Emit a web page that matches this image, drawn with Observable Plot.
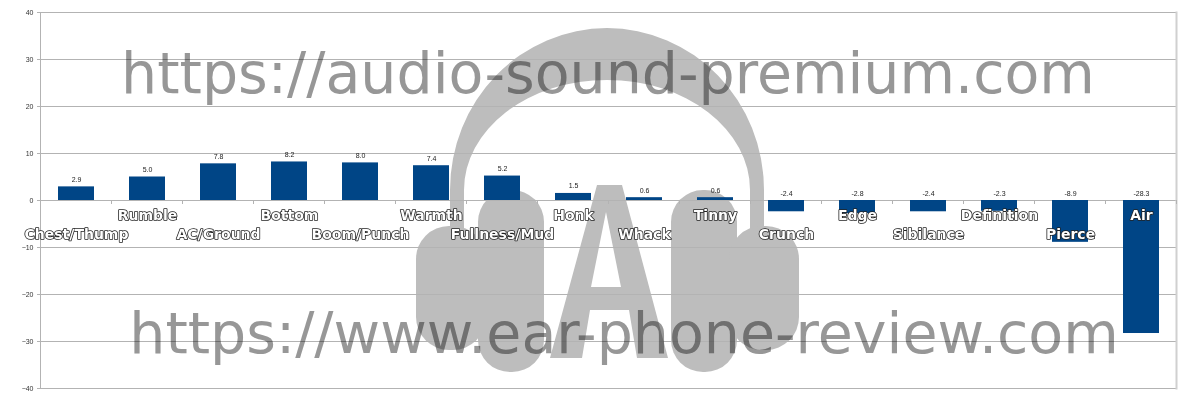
<!DOCTYPE html>
<html><head><meta charset="utf-8">
<script src="https://cdn.jsdelivr.net/npm/d3@7"></script>
<script src="https://cdn.jsdelivr.net/npm/@observablehq/plot@0.6"></script>
<style>html,body{margin:0;padding:0;background:#fff} #chart svg{display:block}</style>
</head><body><div id="chart"></div>
<script>
const categories = ["Chest/Thump","Rumble","AC/Ground","Bottom","Boom/Punch","Warmth","Fullness/Mud","Honk","Whack","Tinny","Crunch","Edge","Sibilance","Definition","Pierce","Air"];
const values = [2.9, 5.0, 7.8, 8.2, 8.0, 7.4, 5.2, 1.5, 0.6, 0.6, -2.4, -2.8, -2.4, -2.3, -8.9, -28.3];
const yTicks = [-40, -30, -20, -10, 0, 10, 20, 30, 40];
const watermarkTexts = ["https://audio-sound-premium.com", "https://www.ear-phone-review.com"];

const data = categories.map((c, i) => ({category: c, value: values[i], row: i % 2}));

// decorative headphone logo (watermark background)
const logo = () => {
  const g = d3.create("svg:g").attr("fill", "#bdbdbd");
  g.append("path")
    .attr("d", "M450,232 L450,190 A157,162 0 0 1 764,190 L764,232 L750,232 L750,190 A143,110 0 0 0 464,190 L464,232 Z");
  g.append("rect").attr("x", 416).attr("y", 226).attr("width", 70).attr("height", 124).attr("rx", 33);
  g.append("rect").attr("x", 478).attr("y", 190).attr("width", 66).attr("height", 182).attr("rx", 32);
  g.append("rect").attr("x", 671).attr("y", 190).attr("width", 66).attr("height", 182).attr("rx", 32);
  g.append("rect").attr("x", 729).attr("y", 226).attr("width", 70).attr("height", 124).attr("rx", 33);
  g.append("path").attr("fill-rule", "evenodd")
    .attr("d", "M597,185 L622,185 L668,358 L637,358 L629,310 L590,310 L582,358 L550,358 Z M606,212 L621,287 L591,287 Z");
  return g.node();
};

// decorative watermark URLs
const watermark = () => {
  const g = d3.create("svg:g")
    .attr("font-family", "DejaVu Sans")
    .attr("font-size", 57)
    .attr("fill", "#979797")
    .attr("text-anchor", "middle")
    .style("mix-blend-mode", "multiply");
  g.append("text").attr("x", 608).attr("y", 93).text(watermarkTexts[0]);
  g.append("text").attr("x", 624).attr("y", 353).text(watermarkTexts[1]);
  return g.node();
};

// small tick marks at category band boundaries on the zero line
const bandTicks = (index, scales) => {
  const x = scales.x, y = scales.y;
  const step = x.step(), bw = x.bandwidth();
  const g = d3.create("svg:g").attr("stroke", "#b3b3b3");
  const y0 = y(0);
  categories.forEach((c) => {
    const bx = x(c) - (step - bw) / 2;
    g.append("line").attr("x1", bx).attr("x2", bx).attr("y1", y0).attr("y2", y0 + 4);
  });
  const last = x(categories[categories.length - 1]) + bw + (step - bw) / 2;
  g.append("line").attr("x1", last).attr("x2", last).attr("y1", y0).attr("y2", y0 + 4);
  return g.node();
};

const labelStyle = {
  x: "category", y: () => 0, text: "category",
  fill: "white", stroke: "#222", strokeWidth: 1.6,
  fontFamily: "DejaVu Sans", fontWeight: "bold", fontSize: 14
};

const chart = Plot.plot({
  width: 1200, height: 400,
  marginLeft: 40, marginRight: 24, marginTop: 12, marginBottom: 12,
  style: {fontFamily: "Liberation Sans", background: "white"},
  x: {domain: categories, paddingInner: 0.5, paddingOuter: 0.25, axis: null},
  y: {domain: [-40, 40], axis: null},
  marks: [
    logo,
    Plot.gridY(yTicks, {stroke: "#b3b3b3", strokeOpacity: 1}),
    Plot.frame({anchor: "left", stroke: "#b3b3b3"}),
    Plot.frame({anchor: "right", stroke: "#d0d0d0", strokeWidth: 2}),
    Plot.axisY(yTicks, {tickSize: 3, tickPadding: 4, fontSize: 7, stroke: "#b3b3b3", fill: "#333", label: null}),
    bandTicks,
    Plot.barY(data, {x: "category", y: "value", fill: "#004586"}),
    Plot.text(data, {x: "category", y: d => Math.max(0, d.value), text: d => d.value.toFixed(1),
      dy: -5, lineAnchor: "bottom", fontSize: 7, fill: "#222"}),
    Plot.text(data, {...labelStyle, filter: d => d.row === 1, dy: 15}),
    Plot.text(data, {...labelStyle, filter: d => d.row === 0, dy: 34}),
    watermark
  ]
});
document.getElementById("chart").append(chart);
</script>
</body></html>
